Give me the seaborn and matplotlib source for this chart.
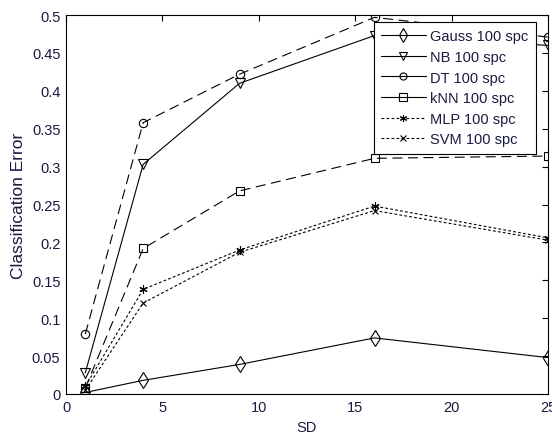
import matplotlib
matplotlib.use("Agg")
import matplotlib.pyplot as plt
from matplotlib.lines import Line2D
import seaborn as sns
import pandas as pd

sd = [1, 4, 9, 16, 25]
gauss = [0.002, 0.018, 0.039, 0.074, 0.048]
nb = [0.028, 0.303, 0.410, 0.473, 0.460]
dt = [0.079, 0.358, 0.422, 0.497, 0.471]
knn = [0.008, 0.192, 0.268, 0.311, 0.314]
mlp = [0.010, 0.138, 0.190, 0.248, 0.206]
svm = [0.005, 0.120, 0.187, 0.242, 0.203]

labels = ["Gauss 100 spc", "NB 100 spc", "DT 100 spc",
          "kNN 100 spc", "MLP 100 spc", "SVM 100 spc"]
series = [gauss, nb, dt, knn, mlp, svm]

sns.set_style("white")
plt.rcParams["font.family"] = ["Liberation Sans", "DejaVu Sans"]

fig = plt.figure(figsize=(5.52, 4.35), dpi=100)
ax = fig.add_axes([0.1196, 0.092, 0.8732, 0.871])

asterisk = (6, 2, 0)
dashed = (0, (9, 5))
dotted = (0, (2.5, 2))
styles = [
    dict(marker="d", ms=8, ls="-"),
    dict(marker="v", ms=6.5, ls="-"),
    dict(marker="o", ms=6, ls=dashed),
    dict(marker="s", ms=6, ls=dashed),
    dict(marker=asterisk, ms=6, ls=dotted),
    dict(marker="x", ms=4.5, ls=dotted),
]
legend_ls = ["-", "-", "-", "-", dotted, dotted]

for lab, vals, st in zip(labels, series, styles):
    df = pd.DataFrame({"SD": sd, "err": vals})
    sns.lineplot(data=df, x="SD", y="err", ax=ax, color="black",
                 marker=st["marker"], markersize=st["ms"],
                 markerfacecolor="none", markeredgecolor="black",
                 markeredgewidth=0.8, linestyle=st["ls"], linewidth=0.8,
                 label=None)

ax.set_xlim(0, 25)
ax.set_ylim(0, 0.5)
ax.set_xticks([0, 5, 10, 15, 20, 25])
ax.set_yticks([i * 0.05 for i in range(11)])
ax.set_yticklabels(["0", "0.05", "0.1", "0.15", "0.2", "0.25", "0.3",
                    "0.35", "0.4", "0.45", "0.5"])
ax.tick_params(direction="in", length=4, width=0.8, top=True, right=True,
               labelsize=10.5, colors="black", labelcolor="#1a1a40", pad=4)
for sp in ax.spines.values():
    sp.set_color("black")
    sp.set_linewidth(0.8)

ax.set_xlabel("SD", fontsize=10.5, labelpad=5, color="#1a1a40")
ax.set_ylabel("Classification Error", fontsize=12.5, labelpad=4,
              color="#1a1a40")

handles = [Line2D([], [], color="black", lw=0.8, ls=ls, marker=st["marker"],
                  ms=st["ms"] * 0.85, mfc="none", mec="black", mew=0.8)
           for st, ls in zip(styles, legend_ls)]
leg = ax.legend(handles, labels, loc="upper right",
                bbox_to_anchor=(0.975, 0.9815), borderaxespad=0,
                fontsize=10.5, frameon=True, fancybox=False,
                edgecolor="black", framealpha=1, handlelength=3.1,
                borderpad=0.5, labelspacing=0.45, handletextpad=0.3)
leg.get_frame().set_linewidth(0.8)
for t in leg.get_texts():
    t.set_color("#1a1a40")

fig.savefig("out.png", dpi=100)
